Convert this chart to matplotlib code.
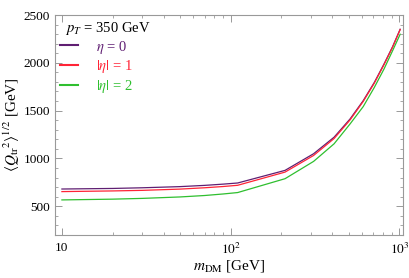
import matplotlib
matplotlib.use("Agg")
import matplotlib.pyplot as plt
from matplotlib.lines import Line2D
from matplotlib.ticker import FixedLocator, FixedFormatter, MultipleLocator, LogLocator, NullFormatter

m_dm = [10, 20, 30, 50, 70, 90, 110, 210, 310, 410, 510, 610, 710, 810, 910, 1010]
eta0 = [680, 686, 693, 705, 718, 731, 743, 875, 1049, 1222, 1413, 1604, 1795, 1987, 2167, 2351]
eta1 = [653, 660, 666, 679, 693, 706, 719, 857, 1031, 1208, 1403, 1596, 1788, 1980, 2162, 2348]
eta2 = [566, 574, 582, 597, 612, 628, 643, 788, 969, 1153, 1361, 1542, 1743, 1935, 2125, 2299]

labels = [r"$\eta$ = 0", r"$|\eta|$ = 1", r"$|\eta|$ = 2"]
colors = ["#5f1e72", "#ff2436", "#2fbf2f"]
title = r"$p_T$ = 350 GeV"

plt.rcParams['font.family'] = ['Liberation Serif', 'DejaVu Serif']
plt.rcParams['mathtext.fontset'] = 'stix'

fig = plt.figure(figsize=(4.09, 2.78), dpi=100)
ax = fig.add_axes([0.1345, 0.155, 0.85, 0.791])

for ys, c in zip([eta0, eta1, eta2], colors):
    ax.plot(m_dm, ys, color=c, lw=0.9)

ax.set_xscale('log')
ax.set_xlim(9.1, 1045)
ax.set_ylim(200, 2500)

ax.xaxis.set_major_locator(FixedLocator([10, 100, 1000]))
ax.xaxis.set_major_formatter(FixedFormatter(["10", r"$10^2$", r"$10^3$"]))
ax.xaxis.set_minor_locator(LogLocator(base=10, subs=range(2, 10)))
ax.xaxis.set_minor_formatter(NullFormatter())
ax.yaxis.set_major_locator(MultipleLocator(500))
ax.yaxis.set_minor_locator(MultipleLocator(100))

gray = "#999999"
for s in ax.spines.values():
    s.set_color(gray)
    s.set_linewidth(0.8)
ax.tick_params(which='both', direction='in', top=True, right=True, colors=gray,
               labelcolor='black', labelsize=9.5)
ax.tick_params(which='major', length=5, width=0.7)
ax.tick_params(which='minor', length=2.5, width=0.6)
ax.tick_params(axis='x', which='major', pad=5)

ax.set_xlabel(r"$m_{\mathrm{DM}}$ [GeV]", fontsize=11, labelpad=1)
ax.set_ylabel(r"$\langle Q_{\mathrm{tr}}{}^2\rangle^{1/2}$ [GeV]", fontsize=11, labelpad=1)

ax.text(0.029, 0.938, title, transform=ax.transAxes, fontsize=10.5,
        ha='left', va='center')

handles = [Line2D([0], [0], color=c, lw=1.5) for c in colors]
leg = ax.legend(handles, labels, loc='upper left',
                frameon=False, fontsize=10.5, labelcolor=colors,
                handlelength=1.2, handletextpad=1.25, labelspacing=0.2,
                borderaxespad=0.0, borderpad=0.0, bbox_to_anchor=(0.0144, 0.893))

fig.savefig("out.png", dpi=100)
